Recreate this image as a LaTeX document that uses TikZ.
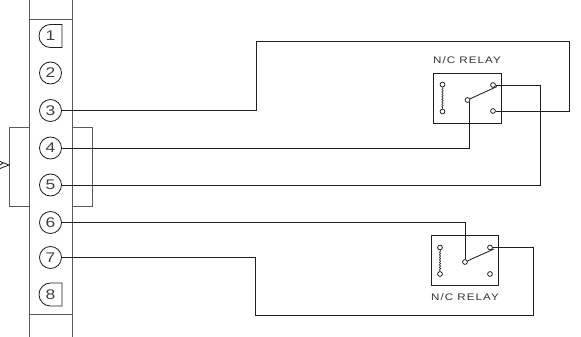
\documentclass[tikz,border=0pt]{standalone}
\usepackage{fontspec}
\usetikzlibrary{decorations.pathmorphing}
\setmainfont{Liberation Sans}
\definecolor{wire}{gray}{0.12}
\definecolor{col}{gray}{0.35}
\newcommand{\widedigit}[1]{\scalebox{1.25}[1]{#1}}
\newcommand{\widelabel}[1]{\scalebox{1.22}[1]{#1}}
\tikzset{
  x=1pt,y=-1pt,
  wireline/.style={line width=0.85pt,draw=wire},
  colline/.style={line width=1pt,draw=col},
  pin/.style={circle,draw=wire,line width=0.85pt,minimum size=22pt,inner sep=0pt,font=\fontsize{14}{14}\selectfont,text=black!75,fill=white},
  pintext/.style={font=\fontsize{14}{14}\selectfont,text=black!75,inner sep=0pt},
  contact/.style={circle,draw=wire,line width=0.8pt,minimum size=4.8pt,inner sep=0pt,fill=white},
  relaybox/.style={draw=wire,line width=0.85pt,inner sep=0pt,minimum width=67.5pt,minimum height=50pt},
  relaylabel/.style={font=\fontsize{9.5}{10}\selectfont\addfontfeatures{LetterSpace=9},text=black!80,inner sep=0pt},
  coilline/.style={draw=wire,line width=0.6pt,decorate,decoration={snake,amplitude=0.7pt,segment length=2.5pt}},
}
\begin{document}
\begin{tikzpicture}
\useasboundingbox (0,0) rectangle (581,337);
% connector column
\draw[colline] (29,0) -- (29,337);
\draw[colline] (72,0) -- (72,337);
\draw[wireline,draw=col] (29,19) -- (72,19);
\draw[wireline,draw=col] (29,314) -- (72,314);
% bracket
\draw[wireline,draw=col] (29,127) -- (9,127) -- (9,206) -- (29,206);
\draw[wireline,draw=col] (72,127) -- (92,127) -- (92,206) -- (72,206);
% left arrow mark
\coordinate (tipa) at (0,161.5);
\coordinate (tipb) at (9,165);
\coordinate (tipc) at (0,168.5);
\draw[wireline] (tipa) -- (tipb) -- (tipc);
\draw[wireline] (0,165) -- (3,163);
% pins
\node[pin] (p2) at (50.5,73) {\widedigit{2}};
\node[pin] (p3) at (50.5,110.5) {\widedigit{3}};
\node[pin] (p4) at (50.5,148) {\widedigit{4}};
\node[pin] (p5) at (50.5,185) {\widedigit{5}};
\node[pin] (p6) at (50.5,222.5) {\widedigit{6}};
\node[pin] (p7) at (50.5,257.5) {\widedigit{7}};
\draw[wireline] (62,24.5) -- (50.5,24.5) arc[start angle=270,end angle=90,radius=11.5] -- (62,47.5) -- cycle;
\draw[wireline] (62,283) -- (50.5,283) arc[start angle=270,end angle=90,radius=11.5] -- (62,306) -- cycle;
\node[pintext] (p1) at (50.5,36) {\widedigit{1}};
\node[pintext] (p8) at (50.5,294.5) {\widedigit{8}};
% relay 1
\node[relaybox] (r1) at (467.5,98) {};
\node[relaylabel] (l1) at (467,60) {\widelabel{N/C RELAY}};
\node[contact] (a1) at (442.5,84.5) {};
\node[contact] (b1) at (442.5,111.5) {};
\node[contact] (c1) at (467.5,100) {};
\node[contact] (d1) at (493,85) {};
\node[contact] (e1) at (493,111) {};
\draw[coilline] (a1) -- (b1);
\draw[wireline] (c1) -- ([xshift=4pt,yshift=-1.5pt]d1.center);
% relay 2
\node[relaybox] (r2) at (465,260.5) {};
\node[relaylabel] (l2) at (465,297) {\widelabel{N/C RELAY}};
\node[contact] (a2) at (440,247.5) {};
\node[contact] (b2) at (440,274) {};
\node[contact] (c2) at (465,262) {};
\node[contact] (d2) at (490,247.5) {};
\node[contact] (e2) at (490,274) {};
\draw[coilline] (a2) -- (b2);
\draw[wireline] (c2) -- ([xshift=4pt,yshift=-1.5pt]d2.center);
% wires
\draw[wireline] (p3.east) -- (256,110.5) -- (256,41) -- (569,41) -- (569,111) -- (e1.east);
\draw[wireline] (p4.east) -- (469,148) -- (469,102);
\draw[wireline] (p5.east) -- (540,185) -- (540,85) -- (d1.east);
\draw[wireline] (p6.east) -- (465,222.5) -- (c2.north);
\draw[wireline] (p7.east) -- (255,257.5) -- (255,315) -- (533,315) -- (533,247.5) -- (d2.east);
\end{tikzpicture}
\end{document}
